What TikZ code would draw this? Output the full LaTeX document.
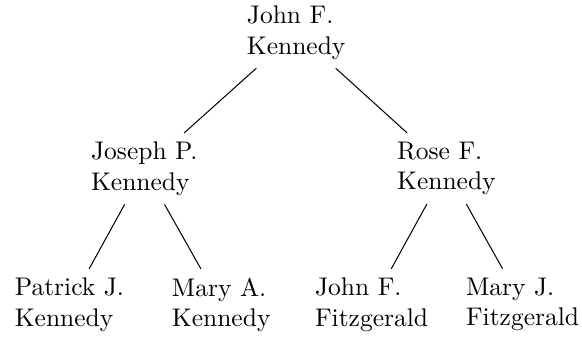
\documentclass[tikz,border=0pt]{standalone}
\begin{document}
\begin{tikzpicture}[x=1pt,y=1pt,
  person/.style={align=left,anchor=north west,inner sep=3.33pt},
  link/.style={draw=black,line width=0.4pt}]
\useasboundingbox (0,0) rectangle (228.2,-132.2);
\node[person] (jfk) at (93.3,1.3) {John F.\\Kennedy};
\node[person] (jpk) at (32.2,-52.1) {Joseph P.\\Kennedy};
\node[person] (rfk) at (152.2,-52.1) {Rose F.\\Kennedy};
\node[person] (pjk) at (2.3,-105.4) {Patrick J.\\Kennedy};
\node[person] (mak) at (63.9,-105.4) {Mary A.\\Kennedy};
\node[person] (jff) at (120.0,-105.4) {John F.\\Fitzgerald};
\node[person] (mjf) at (179.2,-105.4) {Mary J.\\Fitzgerald};
\path[link] (jfk) -- (jpk);
\path[link] (jfk) -- (rfk);
\path[link] (jpk) -- (pjk);
\path[link] (jpk) -- (mak);
\path[link] (rfk) -- (jff);
\path[link] (rfk) -- (mjf);
\end{tikzpicture}
\end{document}
